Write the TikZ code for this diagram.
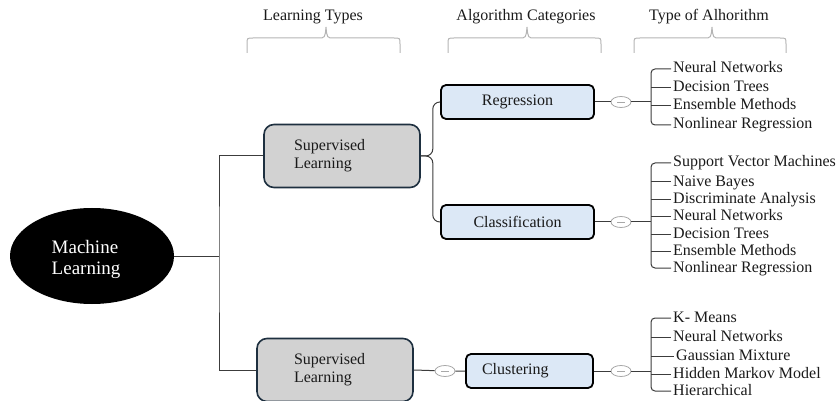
\documentclass[tikz,border=0pt]{standalone}
\usepackage{fontspec}
\setmainfont{Liberation Serif}
\newfontfamily\timesface{Liberation Serif}
\usetikzlibrary{shapes.geometric,calc}
\definecolor{ink}{HTML}{1A1A1A}
\definecolor{wire}{HTML}{3C3C3C}
\definecolor{navy}{HTML}{1E3040}
\definecolor{greybox}{HTML}{D2D2D2}
\definecolor{bluebox}{HTML}{DCE8F6}
\definecolor{bracegrey}{HTML}{B4B4B4}
\definecolor{knobgrey}{HTML}{A8A8A8}

% curly header brace: left x, tip x, right x
\newcommand\headbrace[3]{%
  \draw[brace] (#1,53) -- (#1,44) .. controls (#1,38) .. ($(#1,38)+(6,0)$)
    -- ($(#2,38)+(-8,0)$) .. controls ($(#2,38)+(-1,0)$) .. (#2,27)
    .. controls ($(#2,38)+(1,0)$) .. ($(#2,38)+(8,0)$)
    -- ($(#3,38)+(-6,0)$) .. controls (#3,38) .. (#3,44) -- (#3,53);}

\begin{document}
\begin{tikzpicture}[x=1pt,y=-1pt,
  font=\timesface\fontsize{16}{18}\selectfont, text=ink,
  wire/.style={draw=wire, line width=1pt},
  typebox/.style={draw=navy, line width=1.6pt, fill=greybox, rounded corners=10pt,
    align=left, minimum height=63pt, inner ysep=0pt},
  catbox/.style={draw=black, line width=1.8pt, fill=bluebox, rounded corners=5pt,
    minimum height=34pt, inner ysep=0pt},
  knob/.style={ellipse, draw=knobgrey, line width=0.8pt, fill=white,
    minimum width=20pt, minimum height=11pt, inner sep=0pt,
    path picture={\draw[knobgrey, line width=0.8pt]
      ([xshift=-4pt]path picture bounding box.center) --
      ([xshift=4pt]path picture bounding box.center);}},
  item/.style={anchor=west, inner xsep=2pt, inner ysep=0pt, text height=11pt, text depth=3pt},
  brace/.style={draw=bracegrey, line width=1pt}]

\useasboundingbox (0,0) rectangle (836,401);

% column headings
\node (h1) at (313,17) {Learning Types};
\node (h2) at (526,17) {Algorithm Categories};
\node (h3) at (709,17) {Type of Alhorithm};
\headbrace{247}{326}{400}
\headbrace{448}{527}{601}
\headbrace{634}{712}{786}

% root
\node[ellipse, fill=black, minimum width=164pt, minimum height=96pt, inner sep=0pt] (ml) at (92,256) {};
\node[text=white, align=left, font=\timesface\fontsize{19}{21}\selectfont] (mlt) at (86,259) {Machine\\Learning};

% learning types
\node[typebox, text width=96pt, inner xsep=30pt] (sup1) at (342,156) {Supervised\\Learning};
\node[typebox, text width=82pt, inner xsep=37pt] (sup2) at (335,370) {Supervised\\Learning};

% algorithm categories
\node[catbox, minimum width=153pt] (reg) at (517.5,102) {Regression};
\node[catbox, minimum width=153pt] (cls) at (517.5,222) {Classification};
\node[catbox, text width=95pt, inner xsep=16pt, align=left] (clu) at (529.5,371) {Clustering};

% collapse knobs
\node[knob] (k0) at (445,371) {};
\node[knob] (k1) at (621,102) {};
\node[knob] (k2) at (621,222) {};
\node[knob] (k3) at (621,371) {};

% bracket spines
\coordinate (tr) at (219,256);
\coordinate (b1) at (651,102);
\coordinate (b2) at (651,222);
\coordinate (b3) at (651,371);

% algorithm lists
\node[item] (r1) at (671,69) {Neural Networks};
\node[item] (r2) at (671,88) {Decision Trees};
\node[item] (r3) at (671,106) {Ensemble Methods};
\node[item] (r4) at (671,125) {Nonlinear Regression};

\node[item] (c1) at (671,163) {Support Vector Machines};
\node[item] (c2) at (671,182) {Naive Bayes};
\node[item] (c3) at (671,200) {Discriminate Analysis};
\node[item] (c4) at (671,217) {Neural Networks};
\node[item] (c5) at (671,234) {Decision Trees};
\node[item] (c6) at (671,251) {Ensemble Methods};
\node[item] (c7) at (671,268) {Nonlinear Regression};

\node[item] (u1) at (671,318) {K- Means};
\node[item] (u2) at (671,337) {Neural Networks};
\node[item] (u3) at (674,356) {Gaussian Mixture};
\node[item] (u4) at (671,374) {Hidden Markov Model};
\node[item] (u5) at (671,391) {Hierarchical};

% root to learning types
\draw[wire] (ml.east) -- (tr);
\draw[wire] (sup1.west) -| (tr) |- (sup2.west);

% learning types to categories
\draw[wire, rounded corners=7pt] (sup1.east) -- ++(12,0) |- (reg.west);
\draw[wire, rounded corners=7pt] (sup1.east) -- ++(12,0) |- (cls.west);
\draw[wire] (sup2.east) -- (k0) -- (clu.west);

% categories to lists
\draw[wire] (reg.east) -- (k1) -- (b1);
\draw[wire] (cls.east) -- (k2) -- (b2);
\draw[wire] (clu.east) -- (k3) -- (b3);

\draw[wire, rounded corners=4pt] (r1.west) -| (b1) |- (r4.west);
\foreach \n in {r2,r3} \draw[wire] (b1 |- \n.west) -- (\n.west);

\draw[wire, rounded corners=4pt] (c1.west) -| (b2) |- (c7.west);
\foreach \n in {c2,c3,c4,c5,c6} \draw[wire] (b2 |- \n.west) -- (\n.west);

\draw[wire, rounded corners=4pt] (u1.west) -| (b3) |- (u5.west);
\foreach \n in {u2,u3,u4} \draw[wire] (b3 |- \n.west) -- (\n.west);

\end{tikzpicture}
\end{document}
